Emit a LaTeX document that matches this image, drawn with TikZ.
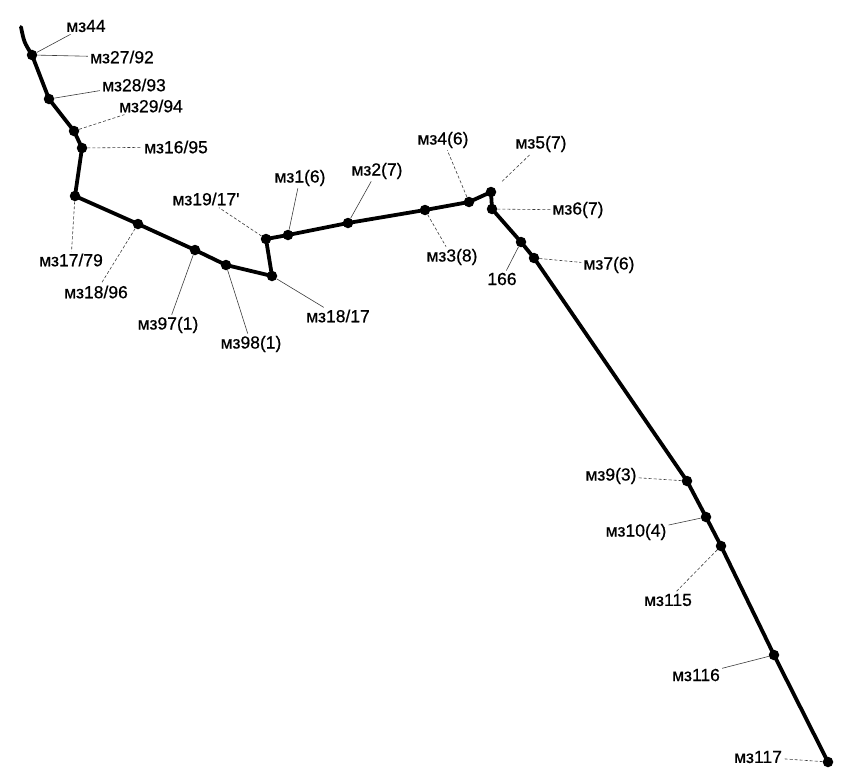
\documentclass[tikz,border=0pt]{standalone}
\usepackage{fontspec}
\setmainfont{Liberation Sans}
\newfontfamily\labelfont[FakeBold=0.6]{Liberation Sans}
\usepackage{tikz}
\usetikzlibrary{calc}
\definecolor{route}{RGB}{0,0,0}
\definecolor{leadgray}{RGB}{60,60,60}

\tikzset{
  dot/.style={circle, fill=route, inner sep=0pt, minimum size=10.5pt},
  lbl/.style={inner sep=2pt, font=\labelfont\fontsize{17.5}{20}\selectfont},
  leader/.style={draw=leadgray, line width=0.6pt},
  leaderdash/.style={leader, dash pattern=on 3pt off 2pt},
  routeline/.style={draw=route, line width=3.8pt, line join=round, line cap=round}
}

\begin{document}
\begin{tikzpicture}[x=1pt, y=-1pt]
  \useasboundingbox (0,0) rectangle (843,776);

  % points along the route
  \coordinate (p0) at (21,27);
  \node[dot] (p1) at (32,55) {};
  \node[dot] (p2) at (49,99) {};
  \node[dot] (p3) at (74,131) {};
  \node[dot] (p4) at (82,148) {};
  \node[dot] (p5) at (75,196) {};
  \node[dot] (p6) at (138,224) {};
  \node[dot] (p7) at (195,250) {};
  \node[dot] (p8) at (226,265) {};
  \node[dot] (p9) at (272,276) {};
  \node[dot] (p10) at (266,239) {};
  \node[dot] (p11) at (288,235) {};
  \node[dot] (p12) at (348,223) {};
  \node[dot] (p13) at (425,210) {};
  \node[dot] (p14) at (469,202) {};
  \node[dot] (p15) at (491,192) {};
  \node[dot] (p16) at (492,209) {};
  \node[dot] (p17) at (521,242) {};
  \node[dot] (p18) at (534,258) {};
  \node[dot] (p19) at (687,481) {};
  \node[dot] (p20) at (706,517) {};
  \node[dot] (p21) at (721,546) {};
  \node[dot] (p22) at (774,655) {};
  \node[dot] (p23) at (828,762) {};

  \draw[routeline] (p0) .. controls (24,42) .. (p1.center)
    -- (p2.center) -- (p3.center) -- (p4.center) -- (p5.center) -- (p6.center)
    -- (p7.center) -- (p8.center) -- (p9.center) -- (p10.center) -- (p11.center)
    -- (p12.center) -- (p13.center) -- (p14.center) -- (p15.center) -- (p16.center)
    -- (p17.center) -- (p18.center) -- (p19.center) -- (p20.center) -- (p21.center)
    -- (p22.center) -- (p23.center);

  % labels
  \node[lbl] (l0) at (86,26) {мз44};
  \node[lbl] (l1) at (122,57) {мз27/92};
  \node[lbl] (l2) at (134,85) {мз28/93};
  \node[lbl] (l3) at (151,106) {мз29/94};
  \node[lbl] (l4) at (176,147) {мз16/95};
  \node[lbl] (l5) at (71,260) {мз17/79};
  \node[lbl] (l6) at (96,292) {мз18/96};
  \node[lbl] (l7) at (168,325) {мз97(1)};
  \node[lbl] (l8) at (251,344) {мз98(1)};
  \node[lbl] (l9) at (338,316) {мз18/17};
  \node[lbl] (l10) at (206,199) {мз19/17\textquotesingle};
  \node[lbl] (l11) at (300,178) {мз1(6)};
  \node[lbl] (l12) at (377,171) {мз2(7)};
  \node[lbl] (l13) at (452,257) {мз3(8)};
  \node[lbl] (l14) at (443,140) {мз4(6)};
  \node[lbl] (l15) at (541,144) {мз5(7)};
  \node[lbl] (l16) at (578,210) {мз6(7)};
  \node[lbl] (l17) at (502,279) {166};
  \node[lbl] (l18) at (609,265) {мз7(6)};
  \node[lbl] (l19) at (611,476) {мз9(3)};
  \node[lbl] (l20) at (636,532) {мз10(4)};
  \node[lbl] (l21) at (668,600) {мз115};
  \node[lbl] (l22) at (696,675) {мз116};
  \node[lbl] (l23) at (758,757) {мз117};

  % leaders
  \draw[leader] (p1) -- (l0);
  \draw[leader] (p1) -- (l1);
  \draw[leader] (p2) -- (l2);
  \draw[leaderdash] (p3) -- (l3);
  \draw[leaderdash] (p4) -- (l4);
  \draw[leaderdash] (p5) -- (l5);
  \draw[leaderdash] (p6) -- (l6);
  \draw[leader] (p7) -- (l7);
  \draw[leader] (p8) -- (l8);
  \draw[leader] (p9) -- (l9);
  \draw[leaderdash] (p10) -- (l10);
  \draw[leader] (p11) -- (l11);
  \draw[leader] (p12) -- (l12);
  \draw[leaderdash] (p13) -- (l13);
  \draw[leaderdash] (p14) -- (l14);
  \draw[leaderdash, shorten <=10pt] (p15) -- (l15);
  \draw[leaderdash] (p16) -- (l16);
  \draw[leader] (p17) -- (l17);
  \draw[leaderdash] (p18) -- (l18);
  \draw[leaderdash] (p19) -- (l19);
  \draw[leader] (p20) -- (l20);
  \draw[leaderdash] (p21) -- (l21);
  \draw[leader] (p22) -- (l22);
  \draw[leaderdash] (p23) -- (l23);
\end{tikzpicture}
\end{document}
